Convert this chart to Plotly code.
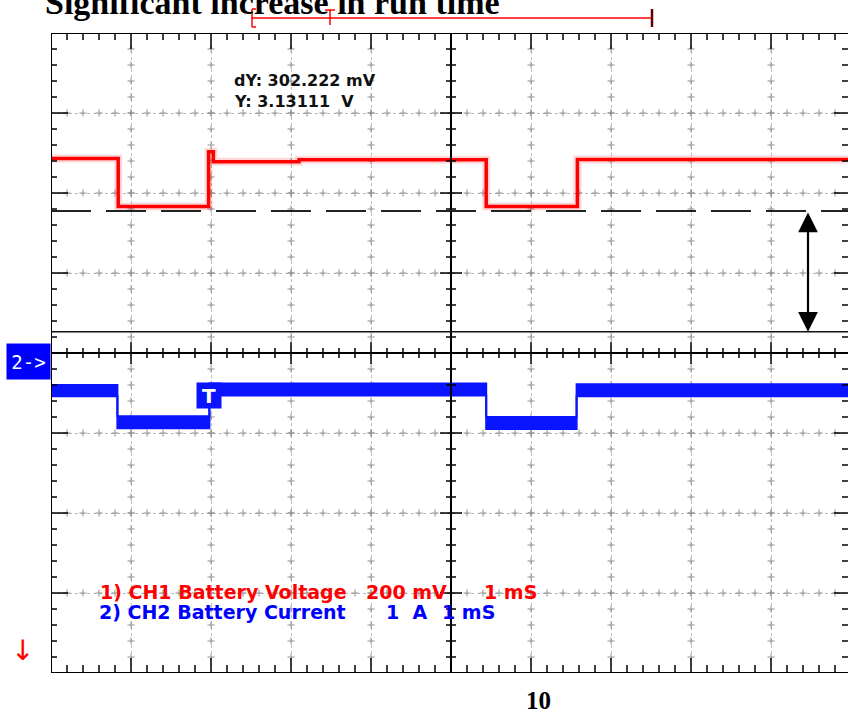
import plotly.graph_objects as go

# ---------------- data ----------------
# time axis: 1 mS / div, 10 divisions, 0 = left edge of the screen
red_t = [0.00, 0.84, 1.97, 2.03, 3.10, 5.44, 6.58, 9.97]          # ms
red_v = [3.262, 3.142, 3.279, 3.254, 3.259, 3.142, 3.260, 3.260]  # V (CH1)

blue_t = [0.00, 0.83, 1.98, 5.44, 6.57, 9.97]                     # ms
blue_hi = [-0.40, -0.79, -0.38, -0.80, -0.39, -0.39]              # A, upper edge of noise band (CH2)
blue_lo = [-0.54, -0.94, -0.53, -0.95, -0.54, -0.54]              # A, lower edge of noise band

ch1_volts_per_div = 0.200
ch1_centre_v = 2.776          # CH1 value at screen centre
ch2_amps_per_div = 1.0
cursor_y = 3.13111            # V
cursor_dy = 0.302222          # V

legend_red = ["1) CH1 Battery Voltage", "200 mV", "1 mS"]
legend_blue = ["2) CH2 Battery Current", "1  A", "1 mS"]
title_text = "Significant increase in run time"
page_no = "10"

# ---------------- geometry helpers ----------------
W, H = 848, 715
ML, MT, MB = 51, 33, 42
PW, PH = W - ML, H - MT - MB          # 797 x 640
PX_PER_DIV = PH / 8.0                 # 80 px per division
XMAX = PW / PX_PER_DIV                # visible divisions horizontally

def pxx(p):   # page pixel x -> paper
    return (p - ML) / PW

def pxy(p):   # page pixel y -> paper
    return (H - MB - p) / PH

def dx(px):   # pixel length -> division units
    return px / PX_PER_DIV

NB = "\u00a0"

fig = go.Figure()

# grid crosses on the dotted graticule lines
cx, cy = [], []
for gy in [-3, -2, -1, 1, 2, 3]:
    for k in range(1, 50):
        cx.append(k * 0.2); cy.append(gy)
for gx in [1, 2, 3, 4, 6, 7, 8, 9]:
    for k in range(1, 40):
        cx.append(gx); cy.append(-4 + k * 0.2)
fig.add_trace(go.Scatter(x=cx, y=cy, mode="markers", hoverinfo="skip",
                         marker=dict(symbol="cross-thin", size=5,
                                     line=dict(color="#909090", width=1)),
                         showlegend=False))

# CH2 current band (blue)
fig.add_trace(go.Scatter(x=blue_t, y=blue_hi, mode="lines", line_shape="hv",
                         line=dict(color="#0a14ff", width=2), showlegend=False,
                         yaxis="y"))
fig.add_trace(go.Scatter(x=blue_t, y=blue_lo, mode="lines", line_shape="hv",
                         line=dict(color="#0a14ff", width=2), fill="tonexty",
                         fillcolor="#0a14ff", showlegend=False, yaxis="y"))

# CH1 voltage (red) with a faint halo
fig.add_trace(go.Scatter(x=red_t, y=red_v, mode="lines", line_shape="hv",
                         line=dict(color="rgba(255,0,0,0.15)", width=8),
                         showlegend=False, yaxis="y2"))
fig.add_trace(go.Scatter(x=red_t, y=red_v, mode="lines", line_shape="hv",
                         line=dict(color="#ff0000", width=3.5),
                         showlegend=False, yaxis="y2"))

shapes = []

def seg(x0, y0, x1, y1, w=1.5, color="black", xref="x", yref="y", dash=None):
    d = dict(type="line", x0=x0, y0=y0, x1=x1, y1=y1, xref=xref, yref=yref,
             line=dict(color=color, width=w))
    if dash:
        d["line"]["dash"] = dash
    shapes.append(d)

# border
seg(0, -4, 0, 4, w=2)
seg(0, 4, 10.5, 4, w=2)
seg(0, -4, 10.5, -4, w=2)
# centre axes
seg(5, -4, 5, 4, w=2)
seg(0, 0, 10.5, 0, w=2)

# ticks along horizontal edges / centre line
for k in range(0, 51):
    x = k * 0.2
    major = (k % 5 == 0)
    seg(x, 4, x, 4 - dx(16 if major else 7))
    seg(x, -4, x, -4 + dx(15 if major else 8))
    h = dx(11 if major else 5)
    seg(x, -h, x, h)
# ticks along vertical edges / centre line
for k in range(0, 41):
    y = -4 + k * 0.2
    major = (k % 5 == 0)
    seg(0, y, dx(17 if major else 6), y)
    seg(10, y, 10 - dx(17 if major else 9), y)
    h = dx(11 if major else 5)
    seg(5 - h, y, 5 + h, y)

# cursors (on CH1 voltage scale)
seg(0, cursor_y, 10.5, cursor_y, w=2, color="#222", yref="y2", dash="40px,15px")
seg(0, cursor_y - cursor_dy, 10.5, cursor_y - cursor_dy, w=1.5, color="#111", yref="y2")

# red window bracket at the top
by = pxy(18)
seg(pxx(252), by, pxx(652), by, w=1.5, color="#ff0000", xref="paper", yref="paper")
seg(pxx(252), pxy(9), pxx(252), pxy(27), w=1.5, color="#ff0000", xref="paper", yref="paper")
seg(pxx(252), pxy(9), pxx(256), pxy(9), w=1.5, color="#ff0000", xref="paper", yref="paper")
seg(pxx(252), pxy(27), pxx(256), pxy(27), w=1.5, color="#ff0000", xref="paper", yref="paper")
seg(pxx(330), pxy(10), pxx(330), pxy(25), w=1.5, color="#ff0000", xref="paper", yref="paper")
seg(pxx(325), pxy(10), pxx(335), pxy(10), w=1.5, color="#ff0000", xref="paper", yref="paper")
seg(pxx(652), pxy(9), pxx(652), pxy(27), w=2.5, color="#600000", xref="paper", yref="paper")

annotations = []
# double-headed arrow marking dY
annotations.append(dict(x=dx(808 - ML), y=cursor_y - cursor_dy, xref="x", yref="y2",
                        ax=dx(808 - ML), ay=cursor_y, axref="x", ayref="y2",
                        text="", showarrow=True, arrowhead=2, arrowside="end+start",
                        arrowsize=1.8, arrowwidth=2.2, arrowcolor="black",
                        standoff=0, startstandoff=0))

# cursor readout
sans = "DejaVu Sans"
annotations.append(dict(x=dx(232 - ML), y=(353 - 80) / PX_PER_DIV, xref="x", yref="y",
                        text=f"dY: {cursor_dy*1000:.3f} mV", showarrow=False,
                        xanchor="left", yanchor="middle",
                        font=dict(family=sans, size=16, color="#111", weight="bold")))
annotations.append(dict(x=dx(232 - ML), y=(353 - 101) / PX_PER_DIV, xref="x", yref="y",
                        text=f"Y: {cursor_y:.5f}{NB}{NB}V", showarrow=False,
                        xanchor="left", yanchor="middle",
                        font=dict(family=sans, size=16, color="#111", weight="bold")))

# channel legend
for txt, px in zip(legend_red, [98, 364, 482]):
    annotations.append(dict(x=pxx(px), y=pxy(592), xref="paper", yref="paper",
                            text=txt.replace(" ", NB), showarrow=False, xanchor="left",
                            yanchor="middle",
                            font=dict(family=sans, size=19, color="#ff0000", weight="bold")))
for txt, px in zip(legend_blue, [97, 384, 440]):
    annotations.append(dict(x=pxx(px), y=pxy(612), xref="paper", yref="paper",
                            text=txt.replace(" ", NB), showarrow=False, xanchor="left",
                            yanchor="middle",
                            font=dict(family=sans, size=19, color="#0000ff", weight="bold")))

# trigger marker "T"
annotations.append(dict(x=dx(209 - ML), y=-(395.5 - 353) / PX_PER_DIV, xref="x", yref="y",
                        text="<b>T</b>", showarrow=False, bgcolor="#0a14ff",
                        width=24, height=25, borderpad=0,
                        font=dict(family=sans, size=20, color="white")))

# channel 2 ground marker
annotations.append(dict(x=pxx(28.5), y=pxy(361.5), xref="paper", yref="paper",
                        xanchor="center", yanchor="middle",
                        text="2->", showarrow=False, bgcolor="#0000ff",
                        width=43, height=35, borderpad=0,
                        font=dict(family="DejaVu Sans Mono", size=19, color="white")))

# red down arrow
annotations.append(dict(x=pxx(22), y=pxy(650), xref="paper", yref="paper",
                        xanchor="center", yanchor="middle",
                        text="\u2193", showarrow=False,
                        font=dict(family=sans, size=28, color="#ff0000")))

# document title (cut off at the top) and page number
annotations.append(dict(x=pxx(43), y=pxy(23.5), xref="paper", yref="paper",
                        text=title_text, showarrow=False, xanchor="left", yanchor="bottom",
                        font=dict(family="Liberation Serif", size=34, color="black",
                                  weight="bold")))
annotations.append(dict(x=pxx(538), y=pxy(700), xref="paper", yref="paper",
                        text=page_no, showarrow=False, xanchor="center", yanchor="middle",
                        font=dict(family="Liberation Serif", size=25, color="black",
                                  weight="bold")))

fig.update_layout(
    width=W, height=H,
    margin=dict(l=ML, r=0, t=MT, b=MB, pad=0),
    paper_bgcolor="white", plot_bgcolor="white",
    showlegend=False,
    xaxis=dict(range=[0, XMAX], dtick=1, tick0=0, showgrid=True, gridcolor="#bcbcbc",
               griddash="dot", gridwidth=1, zeroline=False, showline=False,
               showticklabels=False, ticks="", fixedrange=True),
    yaxis=dict(range=[-4 * ch2_amps_per_div, 4 * ch2_amps_per_div], dtick=ch2_amps_per_div,
               tick0=0, showgrid=True, gridcolor="#bcbcbc", griddash="dot", gridwidth=1,
               zeroline=False, showline=False, showticklabels=False, ticks="",
               fixedrange=True),
    yaxis2=dict(range=[ch1_centre_v - 4 * ch1_volts_per_div,
                       ch1_centre_v + 4 * ch1_volts_per_div],
                overlaying="y", showgrid=False, zeroline=False, showline=False,
                showticklabels=False, ticks="", fixedrange=True),
    shapes=shapes,
    annotations=annotations,
)

fig.write_html("out.html")
